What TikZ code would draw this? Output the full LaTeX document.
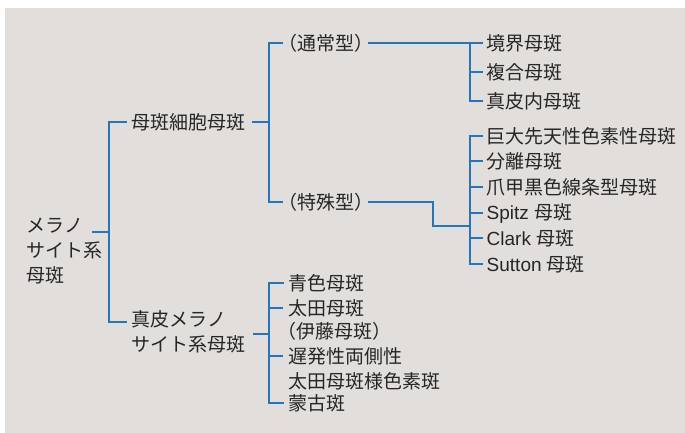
\documentclass[tikz,border=0pt]{standalone}
\usepackage{fontspec}
\setmainfont{Noto Sans CJK JP}
\newfontfamily\latin{Liberation Sans}
\definecolor{bgc}{HTML}{E2DEDB}
\definecolor{lnc}{HTML}{2575BC}
\definecolor{txc}{HTML}{262626}
\newcommand\sst{\rule[-0.12em]{0pt}{1em}}
\begin{document}
\begin{tikzpicture}[x=1pt,y=-1pt,
  lbl/.style={anchor=west, inner sep=0pt, outer sep=0pt, text=txc, align=left, font=\fontsize{19}{25}\selectfont},
  lbltight/.style={lbl, font=\fontsize{19}{23}\selectfont},
  ln/.style={draw=lnc, line width=2pt, line cap=rect, line join=miter}]
\fill[bgc] (5,8) rectangle (685,433);
\useasboundingbox (0,0) rectangle (685,433);

% level 0
\node[lbl] (root) at (26.5,250) {\sst メラノ\\\sst サイト系\\\sst 母斑};
\coordinate (rootout) at (93,232);
\coordinate (t1a) at (109,122);
\coordinate (t1b) at (109,322);

% level 1
\node[lbl] (mc) at (131.5,122) {\sst 母斑細胞母斑};
\node[lbl] (shin) at (131.8,331.5) {\sst 真皮メラノ\\\sst サイト系母斑};
\coordinate (shinin) at (126,322);
\coordinate (shinout) at (254,334);

% level 2
\coordinate (t2a) at (269,43);
\coordinate (t2b) at (269,202);
\node[lbl] (tsu) at (278,43) {\sst （通常型）};
\node[lbl] (tok) at (278,202) {\sst （特殊型）};

% group 3 (usual)
\coordinate (t3a) at (470,43);
\coordinate (t3b) at (470,101);
\node[lbl] (k1) at (486.7,43) {\sst 境界母斑};
\node[lbl] (k2) at (486.7,72) {\sst 複合母斑};
\node[lbl] (k3) at (486.7,101) {\sst 真皮内母斑};

% group 4 (special)
\coordinate (t4a) at (470,136);
\coordinate (t4b) at (470,264);
\coordinate (bend1) at (433,202);
\coordinate (bend2) at (433,226);
\node[lbl] (s1) at (486.7,136) {\sst 巨大先天性色素性母斑};
\node[lbl] (s2) at (486.7,161) {\sst 分離母斑};
\node[lbl] (s3) at (486.7,187) {\sst 爪甲黒色線条型母斑};
\node[lbl] (s4) at (486.7,213) {\sst {\latin Spitz }母斑};
\node[lbl] (s5) at (486.7,238) {\sst {\latin Clark }母斑};
\node[lbl] (s6) at (486.7,264) {\sst {\latin Sutton }母斑};

% group 5 (dermal)
\coordinate (t5a) at (269,283);
\coordinate (t5b) at (269,403);
\node[lbl] (b1) at (288.3,283) {\sst 青色母斑};
\node[lbltight] (b2) at (288.3,319.5) {\sst 太田母斑\\\sst \kern-0.55em（伊藤母斑）};
\node[lbl] (b3) at (288.3,368.5) {\sst 遅発性両側性\\\sst 太田母斑様色素斑};
\node[lbl] (b4) at (288.3,403) {\sst 蒙古斑};
\coordinate (b2in) at (282,308);
\coordinate (b3in) at (282,356);

% connectors level 0-1
\draw[ln] (rootout) -- (rootout -| t1a);
\draw[ln] ([xshift=-5.5pt]mc.west) -- (t1a) -- (t1b) -- (shinin);

% level 1-2
\draw[ln] ([xshift=7.8pt]mc.east) -- (mc.east -| t2a);
\draw[ln] ([xshift=4pt]tsu.west) -- (t2a) -- (t2b) -- ([xshift=4pt]tok.west);

% usual group
\draw[ln] ([xshift=-3.7pt]tsu.east) -- (t3a) -- (t3b);
\foreach \n in {k1,k2,k3}{\draw[ln] (t3a |- \n.west) -- ([xshift=-5pt]\n.west);}

% special group
\draw[ln] ([xshift=-3.7pt]tok.east) -- (bend1) -- (bend2) -- (bend2 -| t4a);
\draw[ln] (t4a) -- (t4b);
\foreach \n in {s1,s2,s3,s4,s5,s6}{\draw[ln] (t4a |- \n.west) -- ([xshift=-5pt]\n.west);}

% dermal group
\draw[ln] (shinout) -- (shinout -| t5a);
\draw[ln] (t5a) -- (t5b);
\draw[ln] (t5a) -- ([xshift=-5.6pt]b1.west);
\draw[ln] (b2in -| t5a) -- (b2in);
\draw[ln] (b3in -| t5a) -- (b3in);
\draw[ln] (t5b) -- ([xshift=-5.6pt]b4.west);
\end{tikzpicture}
\end{document}
